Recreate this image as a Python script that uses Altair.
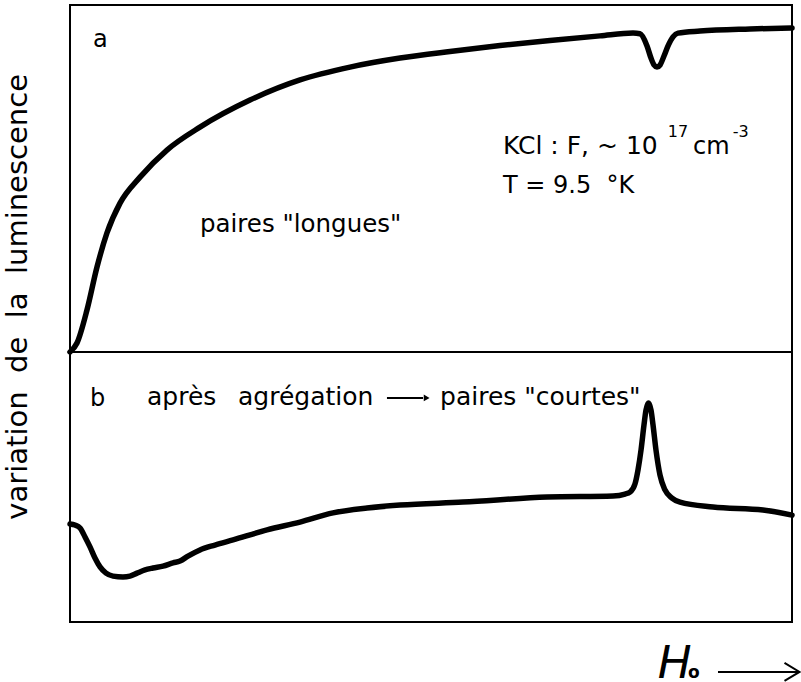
import altair as alt
import pandas as pd

FONT = "DejaVu Sans"
NB = "\u00a0"  # non-breaking space keeps wide word gaps in SVG text

# Panel a: "long" pairs — luminescence change versus field H0 (arbitrary units, 0-100)
a_x = [0, 0.97, 2.35, 3.74, 5.12, 6.93, 9.70, 13.43, 18.0, 24.93,
       31.86, 38.78, 45.71, 52.63, 59.56, 66.48, 73.41, 77.98, 78.95, 79.92,
       80.47, 80.89, 81.30, 81.72, 82.27, 82.83, 83.52, 84.21, 87.26, 94.18,
       100]
a_y = [0, 2.6, 12.1, 24.5, 34.3, 42.9, 50.4, 58.2, 64.8, 72.6,
       78.4, 82.1, 84.7, 86.6, 88.3, 89.8, 91.1, 91.9, 91.7, 88.2,
       84.7, 82.7, 82.1, 82.7, 85.3, 88.2, 90.8, 91.9, 92.5, 93.1,
       93.4]

# Panel b: after aggregation — "short" pairs (arbitrary units, 0-100)
b_x = [0, 0.69, 1.39, 2.08, 2.77, 3.46, 4.16, 4.99, 5.96, 7.34,
       8.31, 9.28, 10.39, 11.50, 12.88, 14.27, 15.24, 16.34, 18.0, 20.08,
       22.58, 27.29, 31.86, 36.43, 41.14, 45.71, 54.43, 66.07, 75.21, 76.87,
       77.56, 78.25, 78.67, 79.09, 79.50, 79.78, 80.12, 80.47, 80.75, 81.16,
       81.72, 82.41, 83.38, 84.49, 89.06, 95.98, 100]
b_y = [36.3, 35.9, 34.8, 31.5, 27.8, 23.7, 20.4, 18.1, 17.0, 16.7,
       17.0, 18.1, 19.3, 20.0, 20.7, 21.9, 22.6, 24.4, 26.7, 28.5,
       30.4, 34.1, 37.0, 40.4, 42.2, 43.3, 44.4, 46.3, 46.7, 47.4,
       48.1, 51.1, 56.3, 63.7, 73.0, 78.5, 81.1, 78.5, 73.0, 63.7,
       54.4, 48.9, 45.9, 44.4, 42.6, 41.5, 39.6]

# Annotation texts (positions in the data units of each panel)
a_labels = ["a", 'paires "longues"', "KCl : F, ~ 10", "17", "cm", "-3",
            f"T = 9.5{NB}{NB}°K"]
a_lab_x = [3.19, 18.0, 59.97, 82.8, 86.3, 91.8, 59.97]
a_lab_y = [87.9, 34.6, 57.1, 62.0, 57.1, 62.0, 45.8]
a_lab_size = [24, 24.5, 25, 16, 24, 16, 24]

b_labels = ["b", "après", "agrégation", 'paires "courtes"']
b_lab_x = [2.77, 10.66, 23.27, 51.25]
b_lab_y = [80.0, 80.4, 80.4, 80.4]
b_lab_size = [24, 25, 25, 25]

gap = NB * 2
y_title = f"variation{gap}de{gap}la{gap}luminescence"

W = 722
HA = 347          # height of panel a
HB = 270          # height of panel b
A_SCALE = HA / HB  # panel a units expressed in panel b units
A_BASE = 100       # panel a sits on top of panel b
Y_MAX = A_BASE + 100 * A_SCALE

xs = alt.Scale(domain=[0, 100], nice=False, zero=False)
ys = alt.Scale(domain=[0, Y_MAX], nice=False, zero=False)


def X(f="x"):
    return alt.X(f"{f}:Q", scale=xs, axis=None)


def Y(f="yy"):
    return alt.Y(f"{f}:Q", scale=ys, axis=None)


def place(chart, panel):
    # stack the panels: panel a values are shifted above panel b
    if panel == "a":
        return chart.transform_calculate(yy=f"datum.y * {A_SCALE} + {A_BASE}")
    return chart.transform_calculate(yy="datum.y")


def curve(xv, yv, panel):
    df = pd.DataFrame({"x": xv, "y": yv})
    c = alt.Chart(df).mark_line(
        color="black", strokeWidth=5.5, interpolate="monotone",
        strokeCap="round", strokeJoin="round"
    ).encode(x=X(), y=Y())
    return place(c, panel)


def labels(txt, xv, yv, sz, panel):
    df = pd.DataFrame({"x": xv, "y": yv, "t": txt, "s": sz})
    c = alt.Chart(df).mark_text(
        font=FONT, align="left", baseline="alphabetic", color="black"
    ).encode(x=X(), y=Y(), text="t:N",
             size=alt.Size("s:Q", scale=None, legend=None))
    return place(c, panel)


# vertical caption left of the frame
ylab = place(alt.Chart(pd.DataFrame({"x": [-5.96], "y": [15.9], "t": [y_title]})).mark_text(
    font=FONT, fontSize=29, angle=270, align="center", baseline="alphabetic", color="black"
).encode(x=X(), y=Y(), text="t:N"), "a")

# divider between the two panels
divider = place(alt.Chart(pd.DataFrame({"x": [0], "x2": [100], "y": [0]})).mark_rule(
    color="black", strokeWidth=2
).encode(x=X(), x2="x2:Q", y=Y()), "a")

# arrow between "agrégation" and "paires courtes"
arrow_shaft = place(alt.Chart(pd.DataFrame({"x": [43.9], "x2": [48.9], "y": [83.0]})).mark_rule(
    color="black", strokeWidth=2
).encode(x=X(), x2="x2:Q", y=Y()), "b")
arrow_head = place(alt.Chart(pd.DataFrame({"x": [49.4], "y": [83.0]})).mark_point(
    shape="triangle-right", filled=True, color="black", size=45, opacity=1
).encode(x=X(), y=Y()), "b")

# field caption: H0 with a long arrow
h_text = place(alt.Chart(pd.DataFrame({"x": [81.4], "y": [-20.8], "t": ["H"]})).mark_text(
    font=FONT, fontSize=45, fontStyle="italic", align="left", baseline="alphabetic", color="black"
).encode(x=X(), y=Y(), text="t:N"), "b")
o_text = place(alt.Chart(pd.DataFrame({"x": [85.6], "y": [-20.8], "t": ["o"]})).mark_text(
    font=FONT, fontSize=17, fontWeight="bold", align="left", baseline="alphabetic", color="black"
).encode(x=X(), y=Y(), text="t:N"), "b")
h_shaft = place(alt.Chart(pd.DataFrame({"x": [89.75], "x2": [100.9], "y": [-18.5]})).mark_rule(
    color="black", strokeWidth=2
).encode(x=X(), x2="x2:Q", y=Y()), "b")
h_head = place(alt.Chart(pd.DataFrame({"x": [100.0], "y": [-18.5]})).mark_point(
    shape="M-1,-1.2L1,0L-1,1.2", filled=False, color="black", strokeWidth=2,
    size=225, opacity=1
).encode(x=X(), y=Y()), "b")

chart = alt.layer(
    divider,
    curve(a_x, a_y, "a"),
    labels(a_labels, a_lab_x, a_lab_y, a_lab_size, "a"),
    ylab,
    curve(b_x, b_y, "b"),
    labels(b_labels, b_lab_x, b_lab_y, b_lab_size, "b"),
    arrow_shaft,
    arrow_head,
    h_text,
    o_text,
    h_shaft,
    h_head,
).properties(
    width=W,
    height=HA + HB,
    autosize=alt.AutoSizeParams(type="none"),
    padding={"left": 70, "top": 5, "right": 9, "bottom": 60},
    background="white",
).configure_view(
    stroke="black", strokeWidth=2
)

chart.save("out.html", embed_options={"renderer": "svg", "actions": False})
